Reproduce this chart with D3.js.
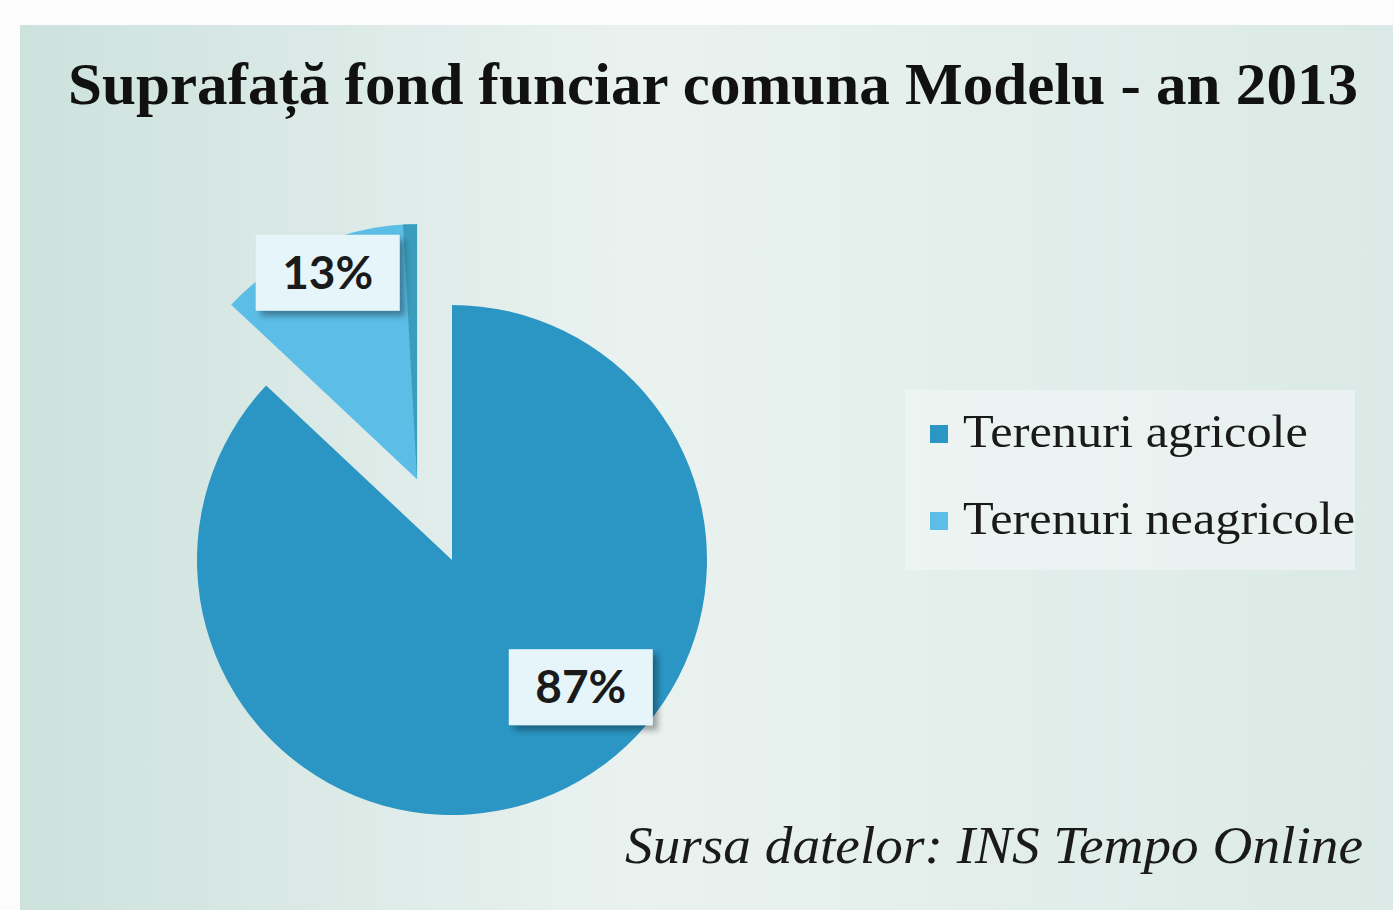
<!DOCTYPE html>
<html>
<head>
<meta charset="utf-8">
<script src="https://cdn.jsdelivr.net/npm/d3@7"></script>
<style>
  body { margin: 0; background: #fff; }
  svg { display: block; }
</style>
</head>
<body>
<div id="chart"></div>
<script>
// date
const categories = ["Terenuri agricole", "Terenuri neagricole"];
const values = [87, 13];
const colors = ["#2b96c4", "#5cbde6"];
const title = "Suprafață fond funciar comuna Modelu - an 2013";
const source = "Sursa datelor: INS Tempo Online";

const width = 1393, height = 910;

const svg = d3.select("#chart").append("svg")
  .attr("width", width)
  .attr("height", height);

const defs = svg.append("defs");
const grad = defs.append("linearGradient").attr("id", "bg")
  .attr("x1", "0").attr("y1", "0").attr("x2", "1").attr("y2", "0");
grad.append("stop").attr("offset", "0").attr("stop-color", "#cde2dd");
grad.append("stop").attr("offset", "0.45").attr("stop-color", "#eaf2f0");
grad.append("stop").attr("offset", "1").attr("stop-color", "#dbeae6");

const shadow = defs.append("filter").attr("id", "shadow")
  .attr("x", "-20%").attr("y", "-20%").attr("width", "150%").attr("height", "150%");
shadow.append("feDropShadow").attr("dx", 5).attr("dy", 5).attr("stdDeviation", 3)
  .attr("flood-color", "#000").attr("flood-opacity", 0.35);

// fundal (hartie + zona graficului)
svg.append("rect").attr("width", width).attr("height", height).attr("fill", "#fbfcfb");
svg.append("rect").attr("x", 20).attr("y", 25).attr("width", width - 20).attr("height", height - 25)
  .attr("fill", "url(#bg)");

// titlu
svg.append("text")
  .attr("x", 68).attr("y", 104)
  .attr("font-family", "Liberation Serif, Times New Roman, serif")
  .attr("font-weight", "bold")
  .attr("font-size", 60)
  .attr("fill", "#111")
  .attr("textLength", 1290)
  .attr("lengthAdjust", "spacingAndGlyphs")
  .text(title);

// placinta
const cx = 452, cy = 560, radius = 255, explode = 88;

const pie = d3.pie().sort(null).value(d => d)
  .startAngle(0).endAngle(2 * Math.PI);
const arcs = pie(values);
const arc = d3.arc().innerRadius(0).outerRadius(radius);

const g = svg.append("g").attr("transform", `translate(${cx},${cy})`);

const offsetOf = (d, i) => {
  if (i !== 1) return [0, 0];
  const a = (d.startAngle + d.endAngle) / 2;
  return [Math.sin(a) * explode, -Math.cos(a) * explode];
};

g.selectAll("path.slice")
  .data(arcs)
  .join("path")
  .attr("class", "slice")
  .attr("transform", (d, i) => `translate(${offsetOf(d, i)})`)
  .attr("d", arc)
  .attr("fill", (d, i) => colors[i]);

// marginea intunecata a feliei mici (efect 3D)
const small = arcs[1];
const [ox, oy] = offsetOf(small, 1);
g.append("path")
  .attr("transform", `translate(${ox},${oy})`)
  .attr("d", d3.arc().innerRadius(0).outerRadius(radius)
    .startAngle(small.endAngle - 0.055).endAngle(small.endAngle)())
  .attr("fill", "#3b9dbd");

// etichete procentuale
const labelPos = [
  (d) => { const a = 2.35; return [Math.sin(a) * 181, -Math.cos(a) * 181]; },
  (d) => { const a = (d.startAngle + d.endAngle) / 2; const [x0, y0] = offsetOf(d, 1);
           return [x0 + Math.sin(a) * 225, y0 - Math.cos(a) * 225]; }
];
const total = d3.sum(values);
arcs.forEach((d, i) => {
  const [lx, ly] = labelPos[i](d);
  const lg = g.append("g").attr("transform", `translate(${lx},${ly})`);
  lg.append("rect")
    .attr("x", -72).attr("y", -38).attr("width", 144).attr("height", 76)
    .attr("fill", "#e6f5f9")
    .attr("filter", "url(#shadow)");
  lg.append("text")
    .attr("text-anchor", "middle")
    .attr("y", 16)
    .attr("font-family", "Lato, Open Sans, sans-serif")
    .attr("font-weight", "bold")
    .attr("font-size", 46)
    .attr("fill", "#1a1a1a")
    .text(Math.round(d.value / total * 100) + "%");
});

// legenda
const legend = svg.append("g").attr("transform", "translate(930,425)");
legend.append("rect").attr("x", -25).attr("y", -35).attr("width", 450).attr("height", 180)
  .attr("fill", "#f2f7f6").attr("opacity", 0.6);
const item = legend.selectAll("g.item")
  .data(categories)
  .join("g")
  .attr("class", "item")
  .attr("transform", (d, i) => `translate(0,${i * 87})`);
item.append("rect")
  .attr("width", 18).attr("height", 18)
  .attr("fill", (d, i) => colors[i]);
item.append("text")
  .attr("x", 33).attr("y", 22)
  .attr("font-family", "Liberation Serif, Times New Roman, serif")
  .attr("font-size", 47)
  .attr("fill", "#1a1a1a")
  .attr("textLength", (d, i) => i === 0 ? 345 : 392)
  .attr("lengthAdjust", "spacingAndGlyphs")
  .text(d => d);

// sursa
svg.append("text")
  .attr("x", 625).attr("y", 863)
  .attr("font-family", "Liberation Serif, Times New Roman, serif")
  .attr("font-style", "italic")
  .attr("font-size", 52)
  .attr("fill", "#1a1a1a")
  .attr("textLength", 738)
  .attr("lengthAdjust", "spacingAndGlyphs")
  .text(source);
</script>
</body>
</html>
